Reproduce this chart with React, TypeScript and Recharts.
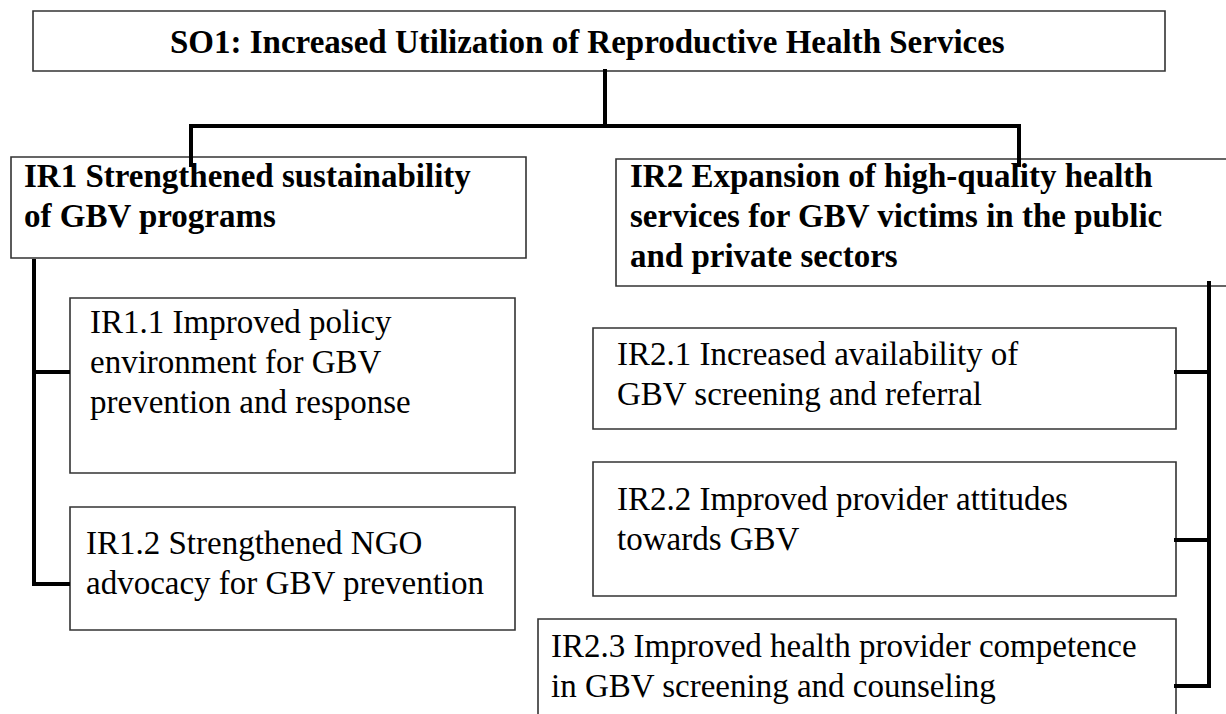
import React from "react";
import {
  ComposedChart,
  XAxis,
  YAxis,
  ReferenceArea,
  ReferenceLine,
  Scatter,
} from "recharts";

const W = 1226;
const H = 714;

const so1Lines = ["SO1: Increased Utilization of Reproductive Health Services"];
const ir1Lines = ["IR1 Strengthened sustainability", "of GBV programs"];
const ir2Lines = [
  "IR2 Expansion of high-quality health",
  "services for GBV victims in the public",
  "and private sectors",
];
const ir11Lines = ["IR1.1 Improved policy", "environment for GBV", "prevention and response"];
const ir12Lines = ["IR1.2 Strengthened NGO", "advocacy for GBV prevention"];
const ir21Lines = ["IR2.1 Increased availability of", "GBV screening and referral"];
const ir22Lines = ["IR2.2 Improved provider attitudes", "towards GBV"];
const ir23Lines = ["IR2.3 Improved health provider competence", "in GBV screening and counseling"];

// boxes in diagram units (x1..x2, y1..y2), text start (tx, ty = first baseline)
const nodes = [
  { id: "SO1", lines: so1Lines, bold: true, x1: 33, x2: 1165, y1: 11, y2: 71, tx: 170, ty: 53 },
  { id: "IR1", lines: ir1Lines, bold: true, x1: 11, x2: 526, y1: 157, y2: 258, tx: 24, ty: 187 },
  { id: "IR2", lines: ir2Lines, bold: true, x1: 616, x2: 1245, y1: 159, y2: 286, tx: 630, ty: 187 },
  { id: "IR1.1", lines: ir11Lines, bold: false, x1: 70, x2: 515, y1: 298, y2: 473, tx: 90, ty: 333 },
  { id: "IR1.2", lines: ir12Lines, bold: false, x1: 70, x2: 515, y1: 507, y2: 630, tx: 86, ty: 554 },
  { id: "IR2.1", lines: ir21Lines, bold: false, x1: 593, x2: 1176, y1: 328, y2: 429, tx: 617, ty: 365 },
  { id: "IR2.2", lines: ir22Lines, bold: false, x1: 593, x2: 1176, y1: 462, y2: 596, tx: 617, ty: 510 },
  { id: "IR2.3", lines: ir23Lines, bold: false, x1: 538, x2: 1176, y1: 619, y2: 740, tx: 551, ty: 657 },
];

// connector segments [x1, y1, x2, y2]
const connectors = [
  [605, 71, 605, 126],
  [191, 126, 1019, 126],
  [191, 126, 191, 165],
  [1019, 126, 1019, 165],
  [34, 261, 34, 584],
  [34, 372, 68, 372],
  [34, 584, 68, 584],
  [1209, 283, 1209, 686],
  [1176, 372, 1209, 372],
  [1176, 540, 1209, 540],
  [1176, 686, 1209, 686],
];

const LINE_H = 40;
const FONT = "'Liberation Serif', 'Times New Roman', serif";

const textRows = nodes.flatMap((n) =>
  n.lines.map((t, i) => ({ x: n.tx, y: n.ty + i * LINE_H, text: t, bold: n.bold }))
);

const TextShape = (props: any) => {
  const { cx, cy, payload } = props;
  return (
    <text
      x={cx}
      y={cy}
      fontFamily={FONT}
      fontSize={33}
      fontWeight={payload.bold ? "bold" : "normal"}
      fill="#000"
    >
      {payload.text}
    </text>
  );
};

export default function App() {
  return (
    <div style={{ position: "absolute", left: 0, top: 0, background: "#fff" }}>
      <ComposedChart width={W} height={H} margin={{ top: 0, right: 0, bottom: 0, left: 0 }}>
        <XAxis type="number" dataKey="x" domain={[0, W]} allowDataOverflow hide />
        <YAxis type="number" dataKey="y" domain={[0, H]} allowDataOverflow reversed hide />
        {nodes.map((n) => (
          <ReferenceArea
            key={n.id}
            x1={n.x1}
            x2={n.x2}
            y1={n.y1}
            y2={n.y2}
            fill="none"
            stroke="#333"
            strokeWidth={1.6}
            ifOverflow="hidden"
          />
        ))}
        {connectors.map((c, i) => (
          <ReferenceLine
            key={i}
            segment={[
              { x: c[0], y: c[1] },
              { x: c[2], y: c[3] },
            ]}
            stroke="#000"
            strokeWidth={4}
            strokeLinecap="square"
            ifOverflow="visible"
          />
        ))}
        <Scatter data={textRows} dataKey="y" shape={TextShape} isAnimationActive={false} />
      </ComposedChart>
    </div>
  );
}
